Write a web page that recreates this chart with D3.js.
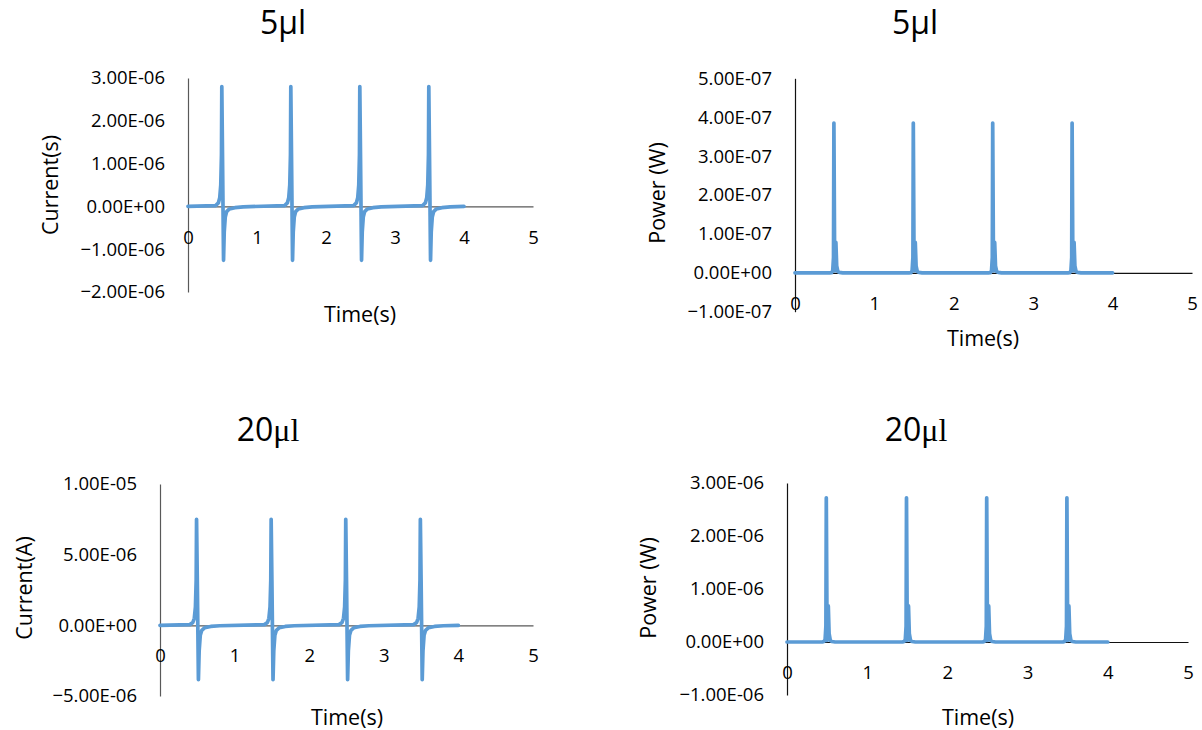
<!DOCTYPE html>
<html>
<head>
<meta charset="utf-8">
<script src="https://cdn.jsdelivr.net/npm/d3@7"></script>
<style>
  body { margin: 0; background: #fff; }
  text { font-family: "Open Sans", sans-serif; fill: #000; }
</style>
</head>
<body>
<svg id="chart"></svg>
<script>
// time (s), shared by all four series
const timeS = [0,
  0.40, 0.44, 0.46, 0.475, 0.485, 0.49, 0.50, 0.515, 0.525, 0.54, 0.56, 0.60, 0.68, 0.80,
  1.40, 1.44, 1.46, 1.475, 1.485, 1.49, 1.50, 1.515, 1.525, 1.54, 1.56, 1.60, 1.68, 1.80,
  2.40, 2.44, 2.46, 2.475, 2.485, 2.49, 2.50, 2.515, 2.525, 2.54, 2.56, 2.60, 2.68, 2.80,
  3.40, 3.44, 3.46, 3.475, 3.485, 3.49, 3.50, 3.515, 3.525, 3.54, 3.56, 3.60, 3.68, 3.80,
  4.00];

// 5 ul current (A)
const current5 = [0,
  0.02e-6, 0.08e-6, 0.2e-6, 0.5e-6, 1.2e-6, 2.8e-6, 1.2e-6, -1.26e-6, -0.6e-6, -0.25e-6, -0.12e-6, -0.06e-6, -0.03e-6, -0.01e-6,
  0.02e-6, 0.08e-6, 0.2e-6, 0.5e-6, 1.2e-6, 2.8e-6, 1.2e-6, -1.26e-6, -0.6e-6, -0.25e-6, -0.12e-6, -0.06e-6, -0.03e-6, -0.01e-6,
  0.02e-6, 0.08e-6, 0.2e-6, 0.5e-6, 1.2e-6, 2.8e-6, 1.2e-6, -1.26e-6, -0.6e-6, -0.25e-6, -0.12e-6, -0.06e-6, -0.03e-6, -0.01e-6,
  0.02e-6, 0.08e-6, 0.2e-6, 0.5e-6, 1.2e-6, 2.8e-6, 1.2e-6, -1.26e-6, -0.6e-6, -0.25e-6, -0.12e-6, -0.06e-6, -0.03e-6, -0.01e-6,
  0];

// 5 ul power (W)
const power5 = [0,
  0, 0, 0.001e-7, 0.05e-7, 0.4e-7, 3.85e-7, 0.05e-7, 0.78e-7, 0.18e-7, 0.03e-7, 0.01e-7, 0, 0, 0,
  0, 0, 0.001e-7, 0.05e-7, 0.4e-7, 3.85e-7, 0.05e-7, 0.78e-7, 0.18e-7, 0.03e-7, 0.01e-7, 0, 0, 0,
  0, 0, 0.001e-7, 0.05e-7, 0.4e-7, 3.85e-7, 0.05e-7, 0.78e-7, 0.18e-7, 0.03e-7, 0.01e-7, 0, 0, 0,
  0, 0, 0.001e-7, 0.05e-7, 0.4e-7, 3.85e-7, 0.05e-7, 0.78e-7, 0.18e-7, 0.03e-7, 0.01e-7, 0, 0, 0,
  0];

// 20 ul current (A)
const current20 = [0,
  0.05e-6, 0.2e-6, 0.5e-6, 1.3e-6, 3.2e-6, 7.5e-6, 3.2e-6, -3.85e-6, -1.8e-6, -0.7e-6, -0.35e-6, -0.16e-6, -0.08e-6, -0.03e-6,
  0.05e-6, 0.2e-6, 0.5e-6, 1.3e-6, 3.2e-6, 7.5e-6, 3.2e-6, -3.85e-6, -1.8e-6, -0.7e-6, -0.35e-6, -0.16e-6, -0.08e-6, -0.03e-6,
  0.05e-6, 0.2e-6, 0.5e-6, 1.3e-6, 3.2e-6, 7.5e-6, 3.2e-6, -3.85e-6, -1.8e-6, -0.7e-6, -0.35e-6, -0.16e-6, -0.08e-6, -0.03e-6,
  0.05e-6, 0.2e-6, 0.5e-6, 1.3e-6, 3.2e-6, 7.5e-6, 3.2e-6, -3.85e-6, -1.8e-6, -0.7e-6, -0.35e-6, -0.16e-6, -0.08e-6, -0.03e-6,
  0];

// 20 ul power (W)
const power20 = [0,
  0, 0, 0.01e-6, 0.04e-6, 0.3e-6, 2.72e-6, 0.03e-6, 0.68e-6, 0.16e-6, 0.03e-6, 0.01e-6, 0, 0, 0,
  0, 0, 0.01e-6, 0.04e-6, 0.3e-6, 2.72e-6, 0.03e-6, 0.68e-6, 0.16e-6, 0.03e-6, 0.01e-6, 0, 0, 0,
  0, 0, 0.01e-6, 0.04e-6, 0.3e-6, 2.72e-6, 0.03e-6, 0.68e-6, 0.16e-6, 0.03e-6, 0.01e-6, 0, 0, 0,
  0, 0, 0.01e-6, 0.04e-6, 0.3e-6, 2.72e-6, 0.03e-6, 0.68e-6, 0.16e-6, 0.03e-6, 0.01e-6, 0, 0, 0,
  0];

const xTicks = [0, 1, 2, 3, 4, 5];
const current5Ticks = [-2e-6, -1e-6, 0, 1e-6, 2e-6, 3e-6];
const power5Ticks = [-1e-7, 0, 1e-7, 2e-7, 3e-7, 4e-7, 5e-7];
const current20Ticks = [-5e-6, 0, 5e-6, 1e-5];
const power20Ticks = [-1e-6, 0, 1e-6, 2e-6, 3e-6];

const width = 1202, height = 730;
const blue = '#5B9BD5';

const svg = d3.select('#chart')
  .attr('width', width)
  .attr('height', height);

// Excel style: 3.00E-06
const fmtE = (v) => {
  if (v === 0) return '0.00E+00';
  const [m, e] = d3.format('.2e')(v).split('e');
  const n = +e;
  return `${m}E${n < 0 ? '-' : '+'}${String(Math.abs(n)).padStart(2, '0')}`;
};

const panels = [
  { values: current5, ticks: current5Ticks, xr: [188, 533], yr: [292, 78],
    title: '5µl', tx: 283, ty: 23, serif: false, ylab: 'Current(s)', ylx: 50, yly: 185,
    xlx: 360, xly: 314, axisColor: '#595959' },
  { values: power5, ticks: power5Ticks, xr: [795, 1192], yr: [311.7, 78.3],
    title: '5µl', tx: 915, ty: 23, serif: false, ylab: 'Power (W)', ylx: 657, yly: 193,
    xlx: 983, xly: 338, axisColor: '#111' },
  { values: current20, ticks: current20Ticks, xr: [160, 533], yr: [696, 484],
    title: '20', tx: 268, ty: 430, serif: true, ylab: 'Current(A)', ylx: 24, yly: 588,
    xlx: 347, xly: 717, axisColor: '#595959' },
  { values: power20, ticks: power20Ticks, xr: [787, 1188], yr: [695, 483],
    title: '20', tx: 916, ty: 430, serif: true, ylab: 'Power (W)', ylx: 648, yly: 588,
    xlx: 978, xly: 717, axisColor: '#111' },
];

panels.forEach((p) => {
  const x = d3.scaleLinear().domain([0, 5]).range(p.xr);
  const y = d3.scaleLinear()
    .domain([p.ticks[0], p.ticks[p.ticks.length - 1]])
    .range(p.yr);

  const g = svg.append('g');

  // y axis
  g.append('g')
    .attr('transform', `translate(${p.xr[0]},0)`)
    .call(d3.axisLeft(y).tickValues(p.ticks).tickFormat(fmtE)
      .tickSize(0).tickPadding(23))
    .call((a) => a.select('.domain').attr('stroke', p.axisColor).attr('stroke-width', 1.2))
    .call((a) => a.selectAll('text')
      .attr('font-family', '"Open Sans", sans-serif')
      .attr('font-size', 18.5).attr('fill', '#000'));

  // x axis at zero
  g.append('g')
    .attr('transform', `translate(0,${y(0)})`)
    .call(d3.axisBottom(x).tickValues(xTicks).tickFormat(d3.format('d'))
      .tickSize(0).tickPadding(24))
    .call((a) => a.select('.domain').attr('stroke', p.axisColor).attr('stroke-width', 1.2))
    .call((a) => a.selectAll('text')
      .attr('font-family', '"Open Sans", sans-serif')
      .attr('font-size', 18.5).attr('fill', '#000'));

  // series
  const line = d3.line()
    .x((d, i) => x(timeS[i]))
    .y((d) => y(d));

  g.append('path')
    .datum(p.values)
    .attr('fill', 'none')
    .attr('stroke', blue)
    .attr('stroke-width', 3.7)
    .attr('stroke-linejoin', 'round')
    .attr('stroke-linecap', 'round')
    .attr('d', line);

  // chart title
  const t = g.append('text')
    .attr('x', p.tx)
    .attr('y', p.ty + 11)
    .attr('text-anchor', 'middle')
    .attr('font-size', 32);
  if (p.serif) {
    t.append('tspan').text(p.title);
    t.append('tspan').attr('font-family', '"Liberation Serif", serif').text('μl');
  } else {
    t.text(p.title);
  }

  // axis titles
  g.append('text')
    .attr('transform', `translate(${p.ylx + 7.5},${p.yly}) rotate(-90)`)
    .attr('text-anchor', 'middle')
    .attr('font-size', 21.5)
    .text(p.ylab);

  g.append('text')
    .attr('x', p.xlx)
    .attr('y', p.xly + 7.5)
    .attr('text-anchor', 'middle')
    .attr('font-size', 21.5)
    .text('Time(s)');
});
</script>
</body>
</html>
